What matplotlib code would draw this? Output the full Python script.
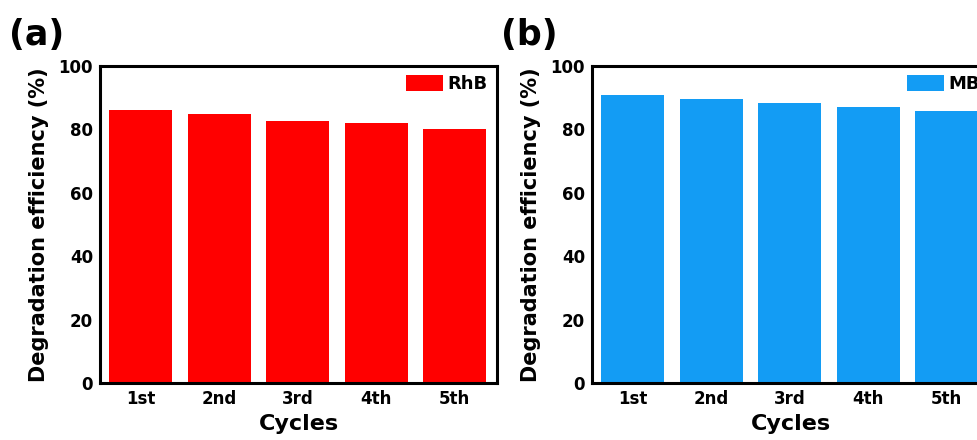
import numpy as np
import matplotlib.pyplot as plt

plt.rcParams['font.family'] = ['DejaVu Sans']
plt.rcParams['font.weight'] = 'bold'

cycles = ['1st', '2nd', '3rd', '4th', '5th']
rhb_eff = [86.1, 84.8, 82.8, 81.9, 80.2]
mb_eff = [90.8, 89.6, 88.3, 87.1, 85.8]


def draw_panel(ax, values, color, name, tag):
	x = np.arange(len(cycles))
	ax.bar(x, values, width=0.80, color=color, label=name)
	ax.set_xlim(-0.52, 4.54)
	ax.set_ylim(0, 100)
	ax.set_yticks([0, 20, 40, 60, 80, 100])
	ax.set_xticks(x)
	ax.set_xticklabels(cycles)
	ax.tick_params(length=0, labelsize=12, pad=5)
	for lab in ax.get_xticklabels() + ax.get_yticklabels():
		lab.set_fontweight('bold')
	for s in ax.spines.values():
		s.set_linewidth(2.2)
	ax.set_xlabel('Cycles', fontsize=16, fontweight='bold', labelpad=4)
	ax.set_ylabel('Degradation efficiency (%)', fontsize=15, fontweight='bold', labelpad=7)
	ax.legend(loc='upper right', frameon=False, fontsize=13, handlelength=2.05,
		handleheight=1.0, handletextpad=0.25, borderaxespad=0.2, borderpad=0.3)
	# panel tag above the top-left corner
	ax.text(-0.23, 1.045, tag, transform=ax.transAxes, fontsize=25,
		fontweight='bold', ha='left', va='bottom')


fig = plt.figure(figsize=(9.77, 4.4), dpi=100)
ax1 = fig.add_axes([0.1024, 0.1295, 0.4063, 0.7205])
ax2 = fig.add_axes([0.606, 0.1295, 0.4063, 0.7205])

draw_panel(ax1, rhb_eff, '#FF0000', 'RhB', '(a)')
draw_panel(ax2, mb_eff, '#139CF4', 'MB', '(b)')

fig.savefig('out.png', dpi=100)
